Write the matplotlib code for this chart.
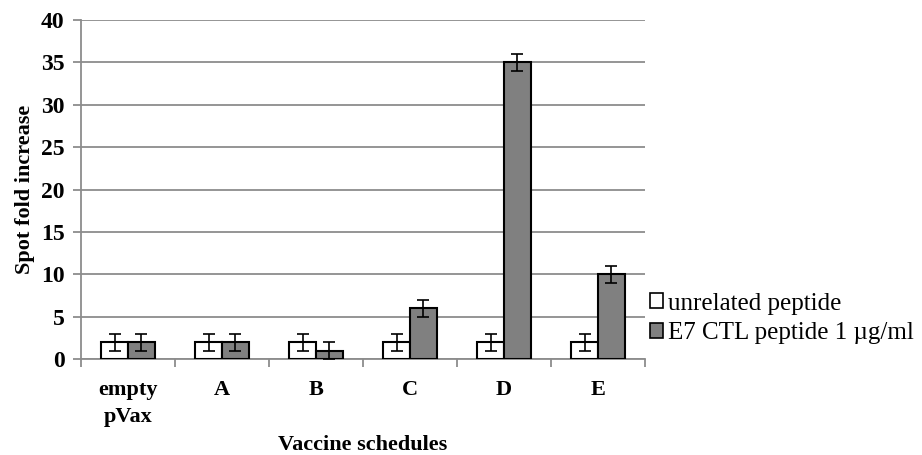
import matplotlib
matplotlib.use("Agg")
import matplotlib.pyplot as plt
import numpy as np
from matplotlib.patches import Patch

categories = ["empty\npVax", "A", "B", "C", "D", "E"]
unrelated = [2, 2, 2, 2, 2, 2]
unrelated_err = [1, 1, 1, 1, 1, 1]
e7 = [2, 2, 1, 6, 35, 10]
e7_err = [1, 1, 1, 1, 1, 1]
series_names = ["unrelated peptide", "E7 CTL peptide 1 \u00b5g/ml"]

plt.rcParams['font.family'] = ['Liberation Serif', 'DejaVu Serif']

fig = plt.figure(figsize=(9.22, 4.55), dpi=100)
ax = fig.add_axes([0.0879, 0.211, 0.6117, 0.745])

x = np.arange(len(categories))
w = 0.285
ax.bar(x - w/2, unrelated, w, color="white", edgecolor="black", linewidth=1.5, zorder=3,
       yerr=unrelated_err, error_kw=dict(ecolor="black", elinewidth=1.2, capsize=4, capthick=1.2, zorder=4))
ax.bar(x + w/2, e7, w, color="#808080", edgecolor="black", linewidth=1.5, zorder=3,
       yerr=e7_err, error_kw=dict(ecolor="black", elinewidth=1.2, capsize=4, capthick=1.2, zorder=4))

ax.set_xlim(-0.5, len(categories) - 0.5)
ax.set_ylim(0, 40)
ax.set_yticks(np.arange(0, 41, 5))
ax.yaxis.grid(True, color="#8c8c8c", linewidth=1.3, zorder=0)
ax.set_axisbelow(True)

for s in ["top", "right"]:
    ax.spines[s].set_visible(False)
ax.spines["left"].set_color("#8c8c8c")
ax.spines["left"].set_linewidth(1.3)
ax.spines["bottom"].set_color("#8c8c8c")
ax.spines["bottom"].set_linewidth(1.3)

ax.set_xticks(x)
ax.set_xticklabels(categories, fontsize=16, fontweight="bold", linespacing=1.45)
ax.tick_params(axis="x", length=0, pad=15)
ax.set_xticks(np.arange(-0.5, len(categories), 1), minor=True)
ax.tick_params(axis="x", which="minor", length=6, color="#8c8c8c", width=1.3)
ax.tick_params(axis="y", length=6, color="#8c8c8c", width=1.3, labelsize=17, pad=6)
for lab in ax.get_yticklabels():
    lab.set_fontweight("bold")

ax.set_ylabel("Spot fold increase", fontsize=16, fontweight="bold", labelpad=4)
ax.set_xlabel("Vaccine schedules", fontsize=16, fontweight="bold", labelpad=6)

handles = [Patch(facecolor="white", edgecolor="black", linewidth=1.2),
           Patch(facecolor="#808080", edgecolor="black", linewidth=1.2)]
fig.legend(handles, series_names, loc="upper left", bbox_to_anchor=(0.691, 0.384),
           frameon=False, fontsize=18, handlelength=0.55, handleheight=0.55,
           handletextpad=0.2, labelspacing=0.3, borderpad=0)

fig.savefig("out.png", dpi=100)
